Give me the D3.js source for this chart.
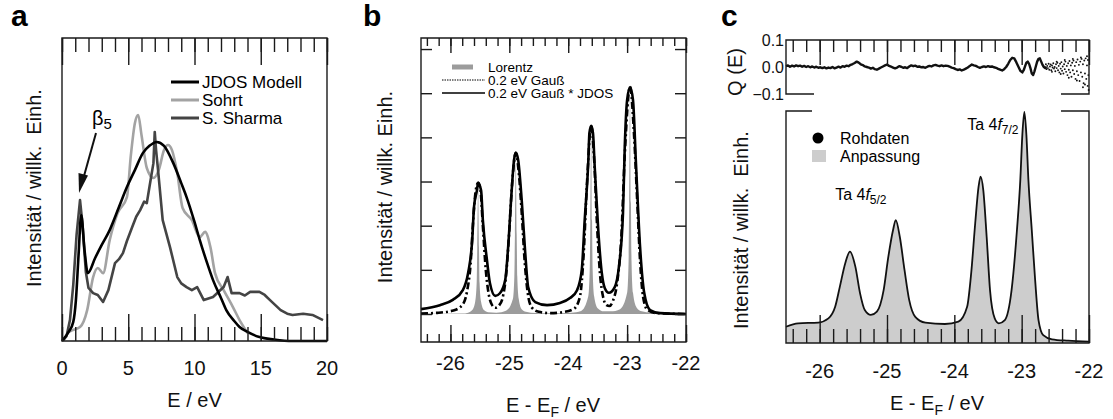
<!DOCTYPE html>
<html>
<head>
<meta charset="utf-8">
<title>JDOS / Ta 4f</title>
<script src="https://cdn.jsdelivr.net/npm/d3@7"></script>
<style>
body { margin: 0; background: #fff; }
svg { font-family: "Liberation Sans", Arial, Helvetica, sans-serif; }
.lbl { font-size: 20px; fill: #111; }
</style>
</head>
<body>
<svg width="1113" height="419"></svg>
<script>
// ---- panel a: loss spectra
var jdos = [[0,0],[0.5,0.03],[0.85,0.063],[1.05,0.135],[1.25,0.284],[1.45,0.416],[1.7,0.30],[1.95,0.224],
  [2.5,0.274],[3.0,0.317],[3.6,0.366],[4.3,0.442],[4.9,0.508],[5.5,0.564],[6.1,0.62],[6.6,0.644],[7.15,0.657],
  [7.7,0.644],[8.4,0.587],[9.0,0.521],[9.4,0.475],[10.0,0.393],[10.4,0.333],[11.0,0.251],[11.4,0.201],[12.0,0.142],
  [12.4,0.102],[13.0,0.066],[13.4,0.046],[14.0,0.03],[14.9,0.013],[16.0,0.005],[17.4,0],[20,0]];
var sohrt = [[0.35,0.026],[0.8,0.036],[1.36,0.046],[1.9,0.102],[2.35,0.211],[2.7,0.241],[3.1,0.224],[3.6,0.333],
  [4.2,0.422],[4.9,0.475],[5.2,0.614],[5.5,0.719],[5.75,0.746],[6.0,0.68],[6.4,0.571],[6.9,0.538],[7.3,0.564],
  [7.7,0.63],[8.0,0.647],[8.3,0.63],[8.7,0.554],[9.1,0.439],[9.8,0.399],[10.4,0.343],[10.8,0.36],[11.2,0.31],
  [11.55,0.224],[12.2,0.168],[12.9,0.112],[13.4,0.069],[13.8,0.04],[14.0,0.026]];
var sharma = [[0.1,0.003],[0.35,0.017],[0.6,0.069],[0.85,0.185],[1.1,0.35],[1.36,0.465],[1.55,0.383],[1.8,0.228],
  [2.0,0.175],[2.35,0.158],[2.7,0.152],[3.1,0.129],[3.5,0.168],[4.0,0.257],[4.3,0.27],[4.6,0.29],[4.9,0.33],[5.3,0.376],
  [5.6,0.41],[5.9,0.432],[6.2,0.46],[6.4,0.455],[6.6,0.508],[6.9,0.587],[7.0,0.69],[7.1,0.63],[7.25,0.564],[7.6,0.399],
  [8.15,0.31],[8.7,0.211],[9.0,0.19],[9.4,0.178],[9.8,0.168],[10.2,0.178],[10.7,0.135],[11.4,0.145],[12.2,0.178],
  [12.5,0.211],[12.8,0.158],[13.4,0.158],[13.8,0.15],[14.2,0.162],[14.9,0.162],[15.3,0.152],[15.7,0.135],[16.5,0.102],
  [17.0,0.09],[17.4,0.086],[18.2,0.09],[18.9,0.086],[19.7,0.069]];
var aSeries = ["JDOS Modell", "Sohrt", "S. Sharma"];
var aTicks = [0, 5, 10, 15, 20];

// ---- panel b
var bLorentz = [[-26.5,0.005],[-25.8,0.01],[-25.7,0.03],[-25.63,0.09],[-25.58,0.28],[-25.555,0.7],[-25.545,1.5],
  [-25.53,2.85],[-25.515,1.5],[-25.505,0.7],[-25.48,0.28],[-25.43,0.09],[-25.36,0.04],[-25.22,0.03],[-25.05,0.08],
  [-24.94,0.34],[-24.915,0.85],[-24.905,1.8],[-24.89,3.5],[-24.875,1.8],[-24.865,0.85],[-24.84,0.34],[-24.79,0.11],
  [-24.72,0.05],[-24.55,0.02],[-24.3,0.015],[-23.95,0.03],[-23.78,0.07],[-23.66,0.4],[-23.635,1.0],[-23.625,2.1],
  [-23.61,4.1],[-23.595,2.1],[-23.585,1.0],[-23.56,0.4],[-23.5,0.13],[-23.4,0.06],[-23.28,0.06],[-23.12,0.11],
  [-23.0,0.48],[-22.975,1.2],[-22.965,2.5],[-22.95,4.95],[-22.935,2.5],[-22.925,1.2],[-22.9,0.48],[-22.84,0.15],
  [-22.75,0.06],[-22.6,0.03],[-22.3,0.01],[-22.0,0.005]];
var bGauss = [[-26.5,0.01],[-26.2,0.03],[-25.95,0.08],[-25.8,0.2],[-25.72,0.5],[-25.66,1.1],[-25.61,2.2],[-25.57,2.8],
  [-25.53,2.97],[-25.49,2.8],[-25.45,2.0],[-25.4,1.0],[-25.35,0.45],[-25.3,0.22],[-25.24,0.14],[-25.17,0.2],
  [-25.1,0.45],[-25.05,0.95],[-25.0,1.9],[-24.95,3.0],[-24.89,3.65],[-24.84,3.2],[-24.79,2.3],[-24.74,1.2],
  [-24.69,0.5],[-24.62,0.15],[-24.5,0.05],[-24.3,0.02],[-24.1,0.04],[-23.9,0.12],[-23.8,0.4],[-23.74,1.3],
  [-23.68,3.0],[-23.61,4.26],[-23.56,3.5],[-23.51,2.0],[-23.46,0.9],[-23.41,0.4],[-23.35,0.2],[-23.3,0.18],
  [-23.24,0.3],[-23.17,0.7],[-23.1,1.7],[-23.04,3.6],[-22.95,5.14],[-22.88,4.0],[-22.83,2.6],[-22.78,1.2],
  [-22.73,0.4],[-22.66,0.1],[-22.5,0.02],[-22.0,0.0]];
var bJdos = [[-26.5,0.11],[-26.18,0.2],[-25.96,0.32],[-25.79,0.54],[-25.7,0.93],[-25.63,1.68],[-25.6,2.42],
  [-25.55,2.8],[-25.53,2.97],[-25.48,2.8],[-25.45,2.13],[-25.38,1.22],[-25.33,0.7],[-25.24,0.41],[-25.16,0.47],
  [-25.07,0.77],[-25.02,1.52],[-24.96,2.8],[-24.92,3.49],[-24.89,3.65],[-24.85,3.49],[-24.79,2.58],[-24.73,1.38],
  [-24.68,0.61],[-24.56,0.27],[-24.36,0.2],[-24.14,0.25],[-23.97,0.36],[-23.85,0.54],[-23.77,1.0],[-23.72,2.13],
  [-23.66,3.42],[-23.64,4.1],[-23.61,4.26],[-23.58,4.1],[-23.55,3.33],[-23.49,1.9],[-23.43,0.93],[-23.38,0.59],
  [-23.31,0.48],[-23.21,0.61],[-23.14,1.06],[-23.07,2.29],[-23.04,3.78],[-23.0,4.84],[-22.95,5.14],[-22.9,4.84],
  [-22.85,3.42],[-22.78,1.52],[-22.71,0.48],[-22.61,0.09],[-22.44,0.02],[-22.0,0.0]];
var bSeries = ["Lorentz", "0.2 eV Gauß", "0.2 eV Gauß * JDOS"];
var bTicks = [-26, -25, -24, -23, -22];

// ---- panel c
var cResidual = [[-26.5,0.003],[-26.47,0.006],[-26.44,0.001],[-26.41,0.005],[-26.38,0.002],[-26.35,0.006],[-26.32,0.003],
  [-26.29,0.005],[-26.26,0.001],[-26.23,0.004],[-26.2,0.0],[-26.17,0.003],[-26.14,-0.001],[-26.11,0.002],[-26.08,-0.002],
  [-26.05,0.001],[-26.02,-0.003],[-25.99,-0.001],[-25.96,-0.004],[-25.93,-0.001],[-25.9,-0.005],[-25.87,-0.002],
  [-25.84,-0.004],[-25.81,0.0],[-25.78,-0.005],[-25.75,-0.002],[-25.72,0.001],[-25.69,-0.002],[-25.66,0.003],
  [-25.63,0.001],[-25.6,0.005],[-25.57,0.003],[-25.54,0.008],[-25.51,0.011],[-25.48,0.015],[-25.45,0.02],
  [-25.42,0.016],[-25.39,0.01],[-25.36,0.007],[-25.33,0.002],[-25.3,0.0],[-25.27,-0.002],[-25.24,-0.006],
  [-25.21,-0.003],[-25.18,-0.008],[-25.15,-0.01],[-25.12,-0.006],[-25.09,-0.002],[-25.06,0.002],[-25.03,0.006],
  [-25.0,0.009],[-24.97,0.004],[-24.94,0.001],[-24.91,-0.002],[-24.88,-0.005],[-24.85,-0.002],[-24.82,0.003],
  [-24.79,0.001],[-24.76,-0.003],[-24.73,-0.001],[-24.7,-0.004],[-24.67,0.002],[-24.64,0.006],[-24.61,0.003],
  [-24.58,0.005],[-24.55,0.001],[-24.52,0.002],[-24.49,-0.001],[-24.46,0.0],[-24.43,-0.003],[-24.4,0.001],
  [-24.37,0.004],[-24.34,0.002],[-24.31,0.006],[-24.28,0.008],[-24.25,0.005],[-24.22,0.003],[-24.19,0.006],
  [-24.16,0.003],[-24.13,0.005],[-24.1,0.004],[-24.07,0.001],[-24.04,-0.002],[-24.01,-0.004],[-23.98,-0.008],
  [-23.95,-0.011],[-23.92,-0.009],[-23.89,-0.013],[-23.86,-0.01],[-23.83,-0.006],[-23.8,-0.002],[-23.77,0.004],
  [-23.74,0.009],[-23.71,0.006],[-23.68,0.004],[-23.65,0.0],[-23.62,-0.003],[-23.59,0.0],[-23.56,0.002],
  [-23.53,0.0],[-23.5,0.003],[-23.47,0.001],[-23.44,0.002],[-23.41,-0.001],[-23.38,-0.003],[-23.35,-0.007],
  [-23.32,-0.01],[-23.29,-0.013],[-23.26,-0.008],[-23.23,0.0],[-23.2,0.012],[-23.17,0.026],[-23.14,0.034],
  [-23.11,0.032],[-23.08,0.018],[-23.05,0.002],[-23.02,-0.014],[-22.99,-0.02],[-22.97,-0.012],[-22.95,0.002],
  [-22.93,0.016],[-22.91,0.02],[-22.89,0.012],[-22.87,-0.004],[-22.85,-0.024],[-22.83,-0.03],[-22.81,-0.016],
  [-22.79,0.002],[-22.77,0.02],[-22.75,0.03],[-22.73,0.032],[-22.71,0.02],[-22.69,0.008],[-22.67,0.0],
  [-22.65,-0.004],[-22.63,0.0]];
var cScatter = [[-22.64,0.01],[-22.63,-0.008],[-22.62,0.004],[-22.61,-0.004],[-22.6,0.012],[-22.59,-0.01],[-22.58,0.002],
  [-22.57,0.009],[-22.56,-0.012],[-22.55,0.006],[-22.54,-0.002],[-22.53,0.014],[-22.52,-0.006],[-22.51,0.0],
  [-22.5,-0.016],[-22.49,0.01],[-22.48,-0.004],[-22.47,0.016],[-22.46,-0.012],[-22.45,0.004],[-22.44,-0.02],
  [-22.43,0.012],[-22.42,-0.006],[-22.41,0.018],[-22.4,-0.014],[-22.39,0.002],[-22.38,-0.024],[-22.37,0.01],
  [-22.36,-0.008],[-22.35,0.02],[-22.34,-0.018],[-22.33,0.004],[-22.32,-0.03],[-22.31,0.014],[-22.3,-0.01],
  [-22.29,0.022],[-22.28,-0.02],[-22.27,0.006],[-22.26,-0.036],[-22.25,0.016],[-22.24,-0.012],[-22.23,0.024],
  [-22.22,-0.026],[-22.21,0.004],[-22.2,-0.044],[-22.19,0.018],[-22.18,-0.016],[-22.17,0.028],[-22.16,-0.03],
  [-22.15,0.008],[-22.14,-0.052],[-22.13,0.02],[-22.12,-0.02],[-22.11,0.03],[-22.1,-0.036],[-22.09,0.01],
  [-22.08,-0.06],[-22.07,0.024],[-22.06,-0.024],[-22.05,0.032],[-22.04,-0.044],[-22.03,0.006],[-22.02,-0.07],
  [-22.015,0.026],[-22.01,-0.03],[-22.005,-0.085],[-22.55,-0.018],[-22.48,0.02],[-22.42,-0.026],[-22.36,0.026],
  [-22.3,-0.04],[-22.24,0.03],[-22.18,-0.05],[-22.12,0.035],[-22.06,-0.065],[-22.03,0.04],[-22.09,-0.075]];
var cRaw = [[-26.5,0.07],[-26.32,0.085],[-26.02,0.088],[-25.87,0.106],[-25.77,0.156],[-25.7,0.243],[-25.62,0.344],
  [-25.55,0.394],[-25.47,0.329],[-25.4,0.214],[-25.33,0.142],[-25.24,0.121],[-25.15,0.135],[-25.05,0.228],
  [-24.98,0.372],[-24.91,0.487],[-24.87,0.53],[-24.81,0.458],[-24.74,0.315],[-24.67,0.185],[-24.58,0.113],
  [-24.43,0.088],[-24.14,0.082],[-23.94,0.092],[-23.81,0.156],[-23.75,0.30],[-23.69,0.516],[-23.64,0.674],
  [-23.61,0.717],[-23.57,0.659],[-23.52,0.458],[-23.47,0.228],[-23.4,0.106],[-23.34,0.085],[-23.25,0.099],
  [-23.15,0.228],[-23.07,0.487],[-23.02,0.703],[-22.99,0.897],[-22.96,0.996],[-22.93,0.897],[-22.9,0.703],
  [-22.85,0.487],[-22.8,0.272],[-22.75,0.099],[-22.68,0.034],[-22.55,0.016],[-22.31,0.01],[-22.0,0.006]];
var cSeries = ["Rohdaten", "Anpassung"];
var qTicks = [0.1, 0.0, -0.1];

var svg = d3.select("svg");
var overlay = [];   // frames and tick sets, drawn last

// inward tick marks through d3 axes
function tickAxis(axisFn, scale, vals, tx, ty, size) {
  overlay.push(function(layer) {
    layer.append("g").attr("transform", "translate(" + tx + "," + ty + ")")
      .attr("color", "#1a1a1a")
      .call(axisFn(scale).tickValues(vals).tickSize(size).tickFormat(""))
      .call(function(g) { g.select(".domain").remove(); g.selectAll("line").attr("stroke-width", 1.4); });
  });
}
function outline(d) {
  overlay.push(function(layer) {
    layer.append("path").attr("d", d).attr("fill", "none").attr("stroke", "#1a1a1a").attr("stroke-width", 1.4);
  });
}
function xLabels(g, sx, vals, y0) {
  g.append("g").selectAll("text").data(vals).join("text")
    .attr("class", "lbl").attr("text-anchor", "middle")
    .attr("x", function(d) { return sx(d); }).attr("y", y0)
    .text(function(d) { return String(d); });
}
function box(sx, sy) {
  var r = sx.range(), s = sy.range();
  outline("M" + r[0] + "," + s[0] + "H" + r[1] + "V" + s[1] + "H" + r[0] + "Z");
}
function yTitle(g, x, y, txt) {
  g.append("text").attr("class", "lbl").attr("text-anchor", "middle")
    .attr("transform", "translate(" + x + "," + y + ") rotate(-90)")
    .attr("xml:space", "preserve")
    .text(txt);
}
function efTitle(g, x, y) {
  var t = g.append("text").attr("class", "lbl").attr("text-anchor", "middle").attr("x", x).attr("y", y);
  t.append("tspan").text("E - E");
  t.append("tspan").attr("dy", 5).style("font-size", "14px").text("F");
  t.append("tspan").attr("dy", -5).text(" / eV");
}
function letter(x, txt) {
  svg.append("text").attr("x", x).attr("y", 25.5)
    .style("font-size", "30px").style("font-weight", "bold").text(txt);
}

// ================= panel a
var ga = svg.append("g");
var xa = d3.scaleLinear().domain([0, 20]).range([62, 327]),
    ya = d3.scaleLinear().domain([0, 1]).range([341, 38]);
var lineA = d3.line().x(function(d) { return xa(d[0]); }).y(function(d) { return ya(d[1]); });
var aColors = ["#000", "#a3a3a3", "#444"];

ga.append("path").attr("fill", "none").attr("d", lineA.curve(d3.curveMonotoneX)(sohrt))
  .attr("stroke", aColors[1]).attr("stroke-width", 2.6);
ga.append("path").attr("fill", "none").attr("d", lineA.curve(d3.curveLinear)(sharma))
  .attr("stroke", aColors[2]).attr("stroke-width", 2.6).attr("stroke-linejoin", "round");
ga.append("path").attr("fill", "none").attr("d", lineA.curve(d3.curveMonotoneX)(jdos))
  .attr("stroke", aColors[0]).attr("stroke-width", 2.6);

box(xa, ya);
tickAxis(d3.axisBottom, xa, xa.ticks(20), 0, 341, -14);
tickAxis(d3.axisBottom, xa, aTicks, 0, 341, -27);
tickAxis(d3.axisTop, xa, xa.ticks(20), 0, 38, -14);
tickAxis(d3.axisTop, xa, aTicks, 0, 38, -27);
xLabels(ga, xa, aTicks, 375);
ga.append("text").attr("class", "lbl").attr("text-anchor", "middle")
  .attr("x", xa(10)).attr("y", 407).text("E / eV");
yTitle(ga, 40.5, 188, "Intensität / willk.  Einh.");

var lgA = ga.append("g").selectAll("g").data(aSeries).join("g")
  .attr("transform", function(d, i) { return "translate(171," + (82 + i * 18) + ")"; });
lgA.append("line").attr("x1", 0).attr("x2", 28)
  .attr("stroke", function(d, i) { return aColors[i]; }).attr("stroke-width", 3);
lgA.append("text").attr("x", 31).attr("dy", "0.35em").style("font-size", "17px").text(function(d) { return d; });

var b5 = ga.append("text").attr("x", 92).attr("y", 125).style("font-size", "20px");
b5.append("tspan").text("β");
b5.append("tspan").attr("dy", 4).style("font-size", "15px").text("5");
ga.append("line").attr("x1", 96).attr("y1", 133).attr("x2", 84).attr("y2", 176)
  .attr("stroke", "#111").attr("stroke-width", 2);
ga.append("path").attr("d", "M79,193 L78.5,173 L88,175.5 Z").attr("fill", "#111");

letter(11, "a");

// ================= panel b
var gb = svg.append("g");
var xb = d3.scaleLinear().domain([-26.5, -22]).range([421, 686]),
    yb = d3.scaleLinear().domain([-0.634, 6.25]).range([342, 38]);
var lineB = d3.line().x(function(d) { return xb(d[0]); }).y(function(d) { return yb(d[1]); }).curve(d3.curveMonotoneX);
var areaB = d3.area().x(function(d) { return xb(d[0]); }).y0(yb(0)).y1(function(d) { return yb(d[1]); }).curve(d3.curveMonotoneX);

gb.append("path").attr("d", areaB(bLorentz)).attr("fill", "#9c9c9c");
gb.append("path").attr("fill", "none").attr("d", lineB(bJdos)).attr("stroke", "#000").attr("stroke-width", 2.6);
gb.append("path").attr("fill", "none").attr("d", lineB(bGauss)).attr("stroke", "#000").attr("stroke-width", 2.6)
  .attr("stroke-dasharray", "7,3,2,3");

box(xb, yb);
var bMinor = d3.range(-132, -109).map(function(i) { return i / 5; });
var bY = d3.range(0, 7);
tickAxis(d3.axisBottom, xb, bMinor, 0, 342, -8);
tickAxis(d3.axisBottom, xb, bTicks, 0, 342, -17);
tickAxis(d3.axisTop, xb, bMinor, 0, 38, -8);
tickAxis(d3.axisTop, xb, bTicks, 0, 38, -15);
tickAxis(d3.axisLeft, yb, bY, 421, 0, -11);
tickAxis(d3.axisRight, yb, bY, 686, 0, -11);
xLabels(gb, xb, bTicks, 370);
efTitle(gb, 553, 412);
yTitle(gb, 392, 187, "Intensität / willk. Einh.");

var lgB = gb.append("g").attr("transform", "translate(442,0)");
lgB.append("line").attr("x1", 10).attr("x2", 31).attr("y1", 67).attr("y2", 67).attr("stroke", "#9c9c9c").attr("stroke-width", 5);
lgB.append("line").attr("x1", 0).attr("x2", 43).attr("y1", 80).attr("y2", 80).attr("stroke", "#000").attr("stroke-width", 1)
  .attr("stroke-dasharray", "1.5,1");
lgB.append("line").attr("x1", 0).attr("x2", 43).attr("y1", 93).attr("y2", 93).attr("stroke", "#000").attr("stroke-width", 1.3);
lgB.selectAll("text").data(bSeries).join("text")
  .attr("x", 46).attr("y", function(d, i) { return 67 + i * 13; }).attr("dy", "0.35em")
  .style("font-size", "13.5px").text(function(d) { return d; });

letter(363, "b");

// ================= panel c
var gc = svg.append("g");
var xc = d3.scaleLinear().domain([-26.5, -22]).range([786, 1089]),
    yq = d3.scaleLinear().domain([-0.1, 0.1]).range([94, 40]),
    yc = d3.scaleLinear().domain([0, 1]).range([343, 111]);
var cMinor = d3.range(-132, -109).map(function(i) { return i / 5; });

gc.append("path").attr("fill", "none")
  .attr("d", d3.line().x(function(d) { return xc(d[0]); }).y(function(d) { return yq(d[1]); })(cResidual))
  .attr("stroke", "#111").attr("stroke-width", 2.4).attr("stroke-linejoin", "round");
gc.append("g").selectAll("circle").data(cScatter).join("circle")
  .attr("cx", function(d) { return xc(d[0]); }).attr("cy", function(d) { return yq(d[1]); })
  .attr("r", 0.95).attr("fill", "#111");

var cx0 = xc.range()[0], cx1 = xc.range()[1];
outline("M" + (cx0 + 28) + "," + yq(-0.1) + "H" + cx0 + "V" + yq(0.1) + "H" + cx1 + "V" + yq(-0.1) + "H" + (cx1 - 28));
tickAxis(d3.axisTop, xc, cMinor, 0, yq(0.1), -12);
tickAxis(d3.axisTop, xc, bTicks, 0, yq(0.1), -25);
gc.append("g").selectAll("text").data(qTicks).join("text")
  .attr("class", "lbl").attr("text-anchor", "end").style("font-size", "16px")
  .attr("x", 784).attr("y", function(d) { return yq(d); }).attr("dy", "0.35em")
  .text(function(d) { return d3.format(".1f")(d); });
yTitle(gc, 742, 72, "Q (E)");

gc.append("path")
  .attr("d", d3.area().x(function(d) { return xc(d[0]); }).y0(yc(0)).y1(function(d) { return yc(d[1]); }).curve(d3.curveMonotoneX)(cRaw))
  .attr("fill", "#cdcdcd");
gc.append("path").attr("fill", "none")
  .attr("d", d3.line().x(function(d) { return xc(d[0]); }).y(function(d) { return yc(d[1]); }).curve(d3.curveMonotoneX)(cRaw))
  .attr("stroke", "#111").attr("stroke-width", 1.8);

outline("M" + (cx0 + 26) + "," + yc(1) + "H" + cx0 + "V" + yc(0) + "H" + cx1 + "V" + yc(1) + "H" + (cx1 - 28));
tickAxis(d3.axisBottom, xc, cMinor, 0, yc(0), -14);
tickAxis(d3.axisBottom, xc, bTicks, 0, yc(0), -28);
xLabels(gc, xc, bTicks, 378);
efTitle(gc, 937, 410);
yTitle(gc, 748, 230, "Intensität / willk.  Einh.");

gc.append("circle").attr("cx", 818).attr("cy", 138).attr("r", 5.5).attr("fill", "#000");
gc.append("rect").attr("x", 812).attr("y", 150).attr("width", 14).attr("height", 12).attr("fill", "#cdcdcd");
gc.selectAll("text.lg").data(cSeries).join("text").attr("class", "lg")
  .attr("x", 840).attr("y", function(d, i) { return 138 + i * 18; }).attr("dy", "0.35em")
  .style("font-size", "16px").text(function(d) { return d; });

function taLabel(x, y, sub) {
  var t = gc.append("text").attr("x", x).attr("y", y).style("font-size", "16px");
  t.append("tspan").text("Ta 4");
  t.append("tspan").style("font-style", "italic").text("f");
  t.append("tspan").attr("dy", 4).style("font-size", "12px").text(sub);
}
taLabel(xc(-25.77), 200, "5/2");
taLabel(xc(-23.81), 130, "7/2");

letter(721, "c");

var layer = svg.append("g");
overlay.forEach(function(draw) { draw(layer); });
</script>
</body>
</html>
